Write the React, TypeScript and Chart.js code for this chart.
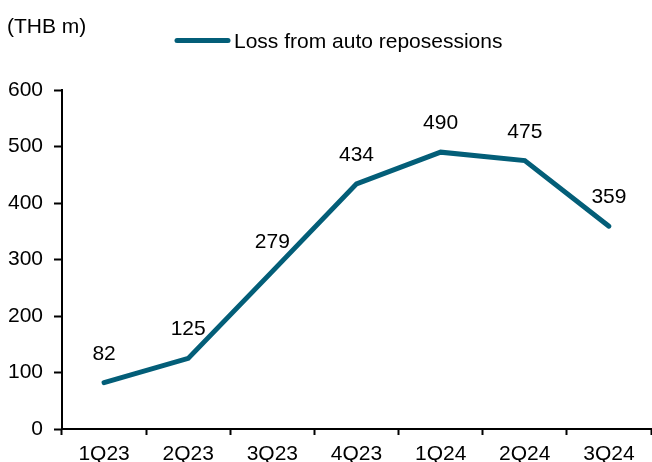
import React, { useEffect, useRef } from "react";
import { Chart, registerables } from "chart.js";

Chart.register(...registerables);

const categories = ["1Q23", "2Q23", "3Q23", "4Q23", "1Q24", "2Q24", "3Q24"];
const lossValues = [82, 125, 279, 434, 490, 475, 359];
const seriesName = "Loss from auto reposessions";
const unitLabel = "(THB m)";
const yTicks = [0, 100, 200, 300, 400, 500, 600];

const LINE_COLOR = "#035e78";
const FONT = "'Liberation Sans', Arial, sans-serif";
const FONT_SIZE = 21;

const overlayPlugin = {
  id: "overlay",
  afterDraw(chart: any) {
    const ctx = chart.ctx;
    ctx.save();
    ctx.font = `${FONT_SIZE}px ${FONT}`;
    ctx.fillStyle = "#000";
    ctx.textAlign = "left";
    ctx.textBaseline = "alphabetic";
    ctx.fillText(unitLabel, 7, 33);
    ctx.strokeStyle = LINE_COLOR;
    ctx.lineWidth = 5;
    ctx.lineCap = "round";
    ctx.beginPath();
    ctx.moveTo(177, 40.5);
    ctx.lineTo(228, 40.5);
    ctx.stroke();
    ctx.fillText(seriesName, 234, 47.5);
    const meta = chart.getDatasetMeta(0);
    ctx.textAlign = "center";
    meta.data.forEach((pt: any, i: number) => {
      ctx.fillText(String(lossValues[i]), pt.x, pt.y - 23);
    });
    ctx.restore();
  },
};

export default function App() {
  const ref = useRef<HTMLCanvasElement | null>(null);
  useEffect(() => {
    if (!ref.current) return;
    const chart = new Chart(ref.current, {
      type: "line",
      data: {
        labels: categories,
        datasets: [
          {
            label: seriesName,
            data: lossValues,
            borderColor: LINE_COLOR,
            backgroundColor: LINE_COLOR,
            borderWidth: 5,
            pointRadius: 0,
            tension: 0,
            borderCapStyle: "round",
            borderJoinStyle: "miter",
          },
        ],
      },
      options: {
        responsive: false,
        animation: false,
        devicePixelRatio: 1,
        layout: { padding: { top: 90, right: 1, bottom: 0, left: 0 } },
        plugins: {
          legend: { display: false },
          tooltip: { enabled: false },
          title: { display: false },
        },
        scales: {
          x: {
            type: "category",
            offset: true,
            grid: {
              display: true,
              offset: true,
              drawOnChartArea: false,
              drawTicks: true,
              tickLength: 6,
              tickWidth: 2,
              tickColor: "#000",
            },
            border: { display: true, color: "#000", width: 2 },
            ticks: {
              color: "#000",
              font: { family: FONT, size: FONT_SIZE },
              padding: 7,
              maxRotation: 0,
              autoSkip: false,
            },
            afterFit(scale: any) {
              scale.height = 33;
            },
          },
          y: {
            min: 0,
            max: 600,
            afterBuildTicks(scale: any) {
              scale.ticks = yTicks.map((v) => ({ value: v }));
            },
            grid: {
              display: true,
              drawOnChartArea: false,
              drawTicks: true,
              tickLength: 8,
              tickWidth: 2,
              tickColor: "#000",
            },
            border: { display: true, color: "#000", width: 2 },
            ticks: {
              color: "#000",
              font: { family: FONT, size: FONT_SIZE },
              padding: 11,
            },
            afterFit(scale: any) {
              scale.width = 62;
            },
          },
        },
      },
      plugins: [overlayPlugin],
    } as any);
    return () => chart.destroy();
  }, []);
  return (
    <div style={{ position: "absolute", left: 0, top: 0, width: 652, height: 462, background: "#fff" }}>
      <canvas ref={ref} width={652} height={462} style={{ display: "block" }} />
    </div>
  );
}
